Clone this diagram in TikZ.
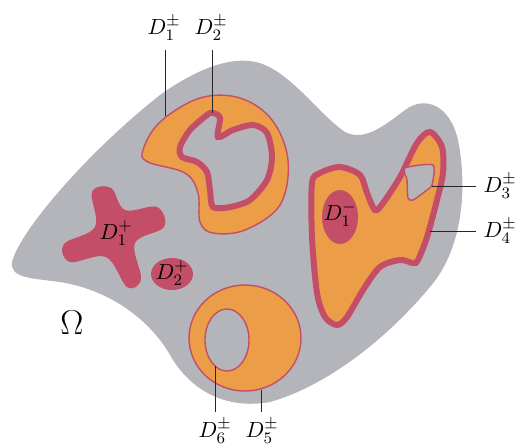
\documentclass[tikz,border=0pt]{standalone}
\usepackage{amsmath}
\definecolor{omgray}{RGB}{180,181,186}
\definecolor{dorange}{RGB}{236,157,72}
\definecolor{dred}{RGB}{196,78,103}
\begin{document}
\begin{tikzpicture}[x=0.5pt,y=-0.5pt,
  thinred/.style={draw=dred,line width=0.7pt},
  thickred/.style={draw=dred,line width=3pt},
  lab/.style={font=\fontsize{11}{13}\selectfont,inner sep=1pt},
  leader/.style={draw=black!85,line width=0.5pt}]
\useasboundingbox (0,0) rectangle (519,446);
% Omega
\fill[omgray] (12,262) .. controls (20,230) and (90,150) .. (160,95)
  .. controls (195,70) and (235,52) .. (265,65)
  .. controls (295,78) and (320,115) .. (345,132)
  .. controls (365,142) and (385,125) .. (405,110)
  .. controls (425,95) and (450,105) .. (458,140)
  .. controls (468,190) and (462,250) .. (430,287)
  .. controls (390,335) and (330,385) .. (270,402)
  .. controls (225,410) and (190,390) .. (170,355)
  .. controls (150,320) and (110,290) .. (60,282)
  .. controls (30,278) and (10,278) .. (12,262) -- cycle;
\node[font=\fontsize{16}{18}\selectfont] (om) at (72,323) {$\Omega$};
% D1+ star
\fill[dred] plot[smooth cycle,tension=0.6] coordinates{
 (92,192) (111,188) (125,210) (157,207) (164,227) (135,243) (141,279) (127,287)
 (106,257) (70,262) (64,244) (95,227)};
\node[lab] (d1p) at (116,233) {$D_1^+$};
% D2+
\fill[dred] (172,274) ellipse [x radius=21,y radius=16];
\node[lab] (d2p) at (172,273) {$D_2^+$};
% D1pm shape
\path[fill=dorange,thinred] plot[smooth cycle,tension=0.6] coordinates{
 (143,150) (160,122) (200,98) (240,98) (272,120) (288,160)
 (280,205) (245,230) (213,233) (200,222) (198,193) (185,173) (148,162)};
\path[fill=omgray,thickred] plot[smooth cycle,tension=0.5] coordinates{
 (213,113) (220,118) (218,137) (233,130) (253,125) (267,133) (272,157) (267,180)
 (250,200) (230,207) (213,207) (210,190) (207,172) (197,162) (182,157) (180,147)
 (190,130) (207,115)};
% D4 shape
\path[fill=dorange,thickred] plot[smooth cycle,tension=0.5] coordinates{
 (430,132) (442,147) (443,173) (437,200) (427,237) (418,260) (413,263) (400,260)
 (380,267) (363,290) (347,317) (337,325) (325,317) (317,293) (312,237) (312,183)
 (320,173) (340,167) (360,175) (367,193) (375,210) (383,203) (400,177) (417,143)};
\path[fill=omgray,thinred] plot[smooth cycle,tension=0.4] coordinates{
 (405,168) (433,165) (432,185) (427,190) (413,200) (408,198) (407,180)};
\fill[dred] (340,217) ellipse [x radius=18,y radius=27];
\node[lab] (d1m) at (340,214) {$D_1^-$};
% D5 D6 annulus
\path[fill=dorange,thinred] (245,338) ellipse [x radius=56,y radius=53];
\path[fill=omgray,thinred] (227,340) ellipse [x radius=22,y radius=31];
% labels and leaders
\node[lab] (l1) at (164,28) {$D_1^{\pm}$};
\node[lab] (l2) at (211,28) {$D_2^{\pm}$};
\node[lab] (l3) at (500,186) {$D_3^{\pm}$};
\node[lab] (l4) at (500,231) {$D_4^{\pm}$};
\node[lab] (l5) at (262,431) {$D_5^{\pm}$};
\node[lab] (l6) at (215,431) {$D_6^{\pm}$};
\coordinate (p1) at (165,116);
\coordinate (p2) at (212,113);
\coordinate (p3) at (432,186);
\coordinate (p4) at (430,231);
\coordinate (p5) at (261,390);
\coordinate (p6) at (215,366);
\draw[leader] (p1) -- (p1 |- 0,50);
\draw[leader] (p2) -- (p2 |- 0,50);
\draw[leader] (p3) -- (476,186);
\draw[leader] (p4) -- (476,231);
\draw[leader] (p5) -- (p5 |- 0,412);
\draw[leader] (p6) -- (p6 |- 0,412);
\end{tikzpicture}
\end{document}
